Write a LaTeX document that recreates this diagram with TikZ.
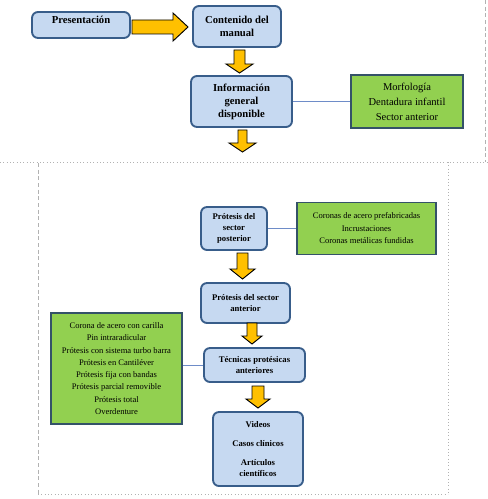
\documentclass[tikz,border=0pt]{standalone}
\usepackage{fontspec}
\setmainfont{Liberation Serif}

\definecolor{boxblue}{RGB}{198,217,241}
\definecolor{boxblueline}{RGB}{56,93,138}
\definecolor{boxgreen}{RGB}{146,208,80}
\definecolor{boxgreenline}{RGB}{52,82,104}
\definecolor{arrowgold}{RGB}{255,192,0}
\definecolor{linkblue}{RGB}{110,140,200}

\tikzset{
  bluebox/.style={draw=boxblueline, fill=boxblue, line width=1.4, rounded corners=4.5, align=center, inner sep=0},
  greenbox/.style={draw=boxgreenline, fill=boxgreen, line width=1.4, align=center, inner sep=0},
  bigtext/.style={font=\bfseries\fontsize{8}{9.75}\selectfont},
  smalltext/.style={font=\bfseries\fontsize{6.5}{8.3}\selectfont},
  blockarrow/.style={draw=black, fill=arrowgold, line width=0.7, line join=miter},
  link/.style={draw=linkblue, line width=0.5},
  pageline/.style={draw=black!30, line width=0.5, dotted},
}

\begin{document}
\begin{tikzpicture}[x=0.75pt,y=0.75pt,yscale=-1,xscale=1]
\useasboundingbox (0,0) rectangle (487,499);

%Page edges
\draw [pageline] (0,162) -- (487,162) ;
\draw [pageline, densely dashed] (485,0) -- (485,162) ;
\draw [pageline, densely dashed] (38,163) -- (38,494) ;
\draw [pageline] (38,494) -- (448,494) ;
\draw [pageline] (448,162) -- (448,494) ;

%Upper part
\node [bluebox, bigtext, minimum width=73.5pt, minimum height=19.5pt, text depth=8pt] (presentacion) at (81,25) {Presentación};
\node [bluebox, bigtext, minimum width=66pt, minimum height=30.75pt] (contenido) at (237,26.5) {Contenido del\\manual};
\node [bluebox, bigtext, minimum width=75.75pt, minimum height=38.25pt] (informacion) at (241.5,101.5) {Información\\general\\disponible};
\node [greenbox, font=\fontsize{7.9}{11.25}\selectfont, minimum width=84pt, minimum height=39.75pt] (morfologia) at (407,101.5) {Morfología\\Dentadura infantil\\Sector anterior};

%Lower part
\node [bluebox, smalltext, minimum width=49.5pt, minimum height=32.25pt] (posterior) at (234,228.5) {Prótesis del\\sector\\posterior};
\node [greenbox, font=\fontsize{6.4}{9.4}\selectfont, minimum width=104.25pt, minimum height=39pt] (coronas) at (366.5,228.5) {Coronas de acero prefabricadas\\Incrustaciones\\Coronas metálicas fundidas};
\node [bluebox, smalltext, minimum width=66.75pt, minimum height=30pt] (anterior) at (245.5,303) {Prótesis del sector\\anterior};
\node [bluebox, smalltext, minimum width=75.75pt, minimum height=25.5pt] (tecnicas) at (254.5,365) {Técnicas protésicas\\anteriores};
\node [greenbox, font=\fontsize{6.4}{9.2}\selectfont, minimum width=98.25pt, minimum height=83.25pt] (opciones) at (116.5,368.5) {Corona de acero con carilla\\Pin intraradicular\\Prótesis con sistema turbo barra\\Prótesis en Cantiléver\\Prótesis fija con bandas\\Prótesis parcial removible\\Prótesis total\\Overdenture};
\node [bluebox, smalltext, minimum width=67.5pt, minimum height=55.5pt] (videos) at (258,449) {Videos\\[6pt]Casos clínicos\\[6pt]Artículos\\científicos};

%Thin links
\draw [link] (informacion.east) -- (morfologia.west) ;
\draw [link] (posterior.east) -- (posterior.east -| coronas.west) ;
\draw [link] (tecnicas.west) -- (tecnicas.west -| opciones.east) ;

%Block arrows
\draw [blockarrow] (132,20) -- (173,20) -- (173,13) -- (188,27) -- (173,41) -- (173,34) -- (132,34) -- cycle ;
\draw [blockarrow] (234,50) -- (245,50) -- (245,64) -- (253,64) -- (239.5,73) -- (226,64) -- (234,64) -- cycle ;
\draw [blockarrow] (238,130) -- (247,130) -- (247,143) -- (256,143) -- (242.5,152) -- (229,143) -- (238,143) -- cycle ;
\draw [blockarrow] (237,253) -- (248,253) -- (248,269) -- (255,269) -- (242.5,279) -- (230,269) -- (237,269) -- cycle ;
\draw [blockarrow] (247,323) -- (257,323) -- (257,336) -- (262,336) -- (252,344) -- (242,336) -- (247,336) -- cycle ;
\draw [blockarrow] (252,386) -- (264,386) -- (264,399) -- (270,399) -- (258,408) -- (246,399) -- (252,399) -- cycle ;

\end{tikzpicture}
\end{document}
